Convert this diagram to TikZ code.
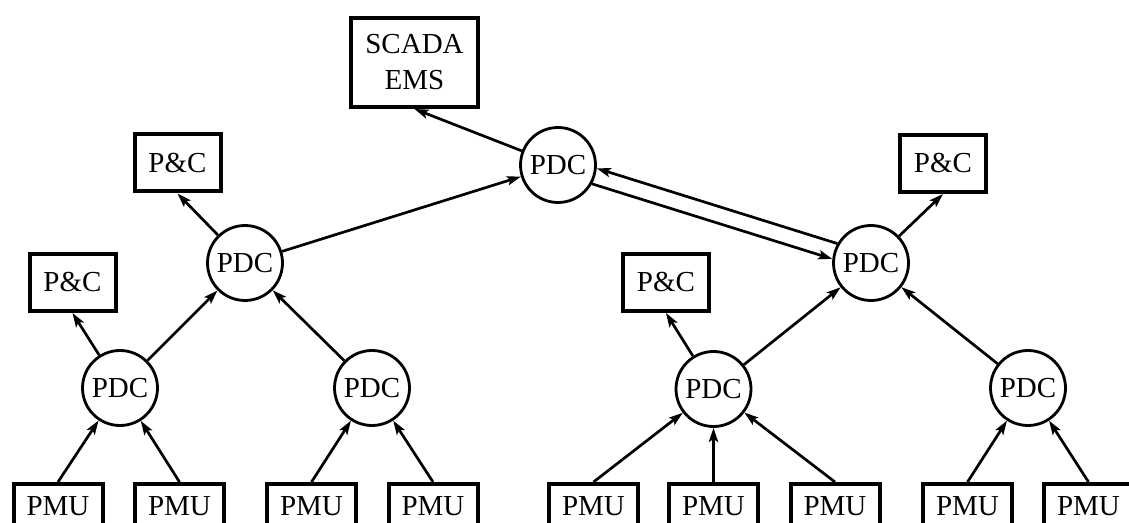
\documentclass[tikz,border=0pt]{standalone}
\usepackage{fontspec}
\setmainfont{Liberation Serif}
\usetikzlibrary{arrows.meta}
\begin{document}
\begin{tikzpicture}[x=0.5pt,y=-0.5pt,
  font=\fontsize{14.5}{18}\selectfont,
  pdc/.style={circle,draw,line width=1.4pt,minimum size=37.5pt,inner sep=0pt},
  box/.style={rectangle,draw,line width=2pt,inner sep=0pt},
  pcbox/.style={box,minimum width=43pt,minimum height=28.5pt},
  pmubox/.style={box,minimum width=44.5pt,minimum height=22pt},
  arr/.style={line width=1.35pt,-{Stealth[length=7pt,width=4.6pt,inset=1.5pt]}}]
\useasboundingbox (0,0) rectangle (1129,523);
\clip (0,0) rectangle (1129,523);
% top level
\node[box,minimum width=63.5pt,minimum height=44.5pt,align=center] (scada) at (414.5,62.5) {SCADA\\EMS};
\node[pdc] (top) at (558,165) {PDC};
% middle level
\node[pdc] (lm) at (245,263) {PDC};
\node[pdc] (rm) at (871,263) {PDC};
\node[pcbox] (pc1) at (177.5,163) {P\&C};
\node[pcbox] (pc4) at (943,163.5) {P\&C};
% lower level
\node[pdc] (ll) at (120,388) {PDC};
\node[pdc] (lr) at (372,388) {PDC};
\node[pdc] (rl) at (713.5,389) {PDC};
\node[pdc] (rr) at (1028,388) {PDC};
\node[pcbox] (pc2) at (72.5,282.5) {P\&C};
\node[pcbox] (pc3) at (666,282.5) {P\&C};
% PMUs
\node[pmubox] (m1) at (58,506) {PMU};
\node[pmubox] (m2) at (179.5,506) {PMU};
\node[pmubox] (m3) at (311.5,506) {PMU};
\node[pmubox] (m4) at (433,506) {PMU};
\node[pmubox] (m5) at (593.5,506) {PMU};
\node[pmubox] (m6) at (713.5,506) {PMU};
\node[pmubox] (m7) at (835,506) {PMU};
\node[pmubox] (m8) at (967.5,506) {PMU};
\node[pmubox] (m9) at (1088.5,506) {PMU};
% connectors
\draw[arr] (m1.north) -- (ll);
\draw[arr] (m2.north) -- (ll);
\draw[arr] (m3.north) -- (lr);
\draw[arr] (m4.north) -- (lr);
\draw[arr] (m5.north) -- (rl);
\draw[arr,line width=1.9pt] (m6.north) -- (rl);
\draw[arr] (m7.north) -- (rl);
\draw[arr] (m8.north) -- (rr);
\draw[arr] (m9.north) -- (rr);
\draw[arr] (ll) -- (pc2.south);
\draw[arr] (ll) -- (lm);
\draw[arr] (lr) -- (lm);
\draw[arr] (lm) -- (pc1.south);
\draw[arr] (lm) -- (top);
\draw[arr] (rl) -- (pc3.south);
\draw[arr] (rl) -- (rm);
\draw[arr] (rr) -- (rm);
\draw[arr] (rm) -- (pc4.south);
\draw[arr] (top) -- (scada.south);
\draw[arr] (rm.150.8) -- (top.-5.6);
\draw[arr] (top.-29.2) -- (rm.174.4);
\end{tikzpicture}
\end{document}
